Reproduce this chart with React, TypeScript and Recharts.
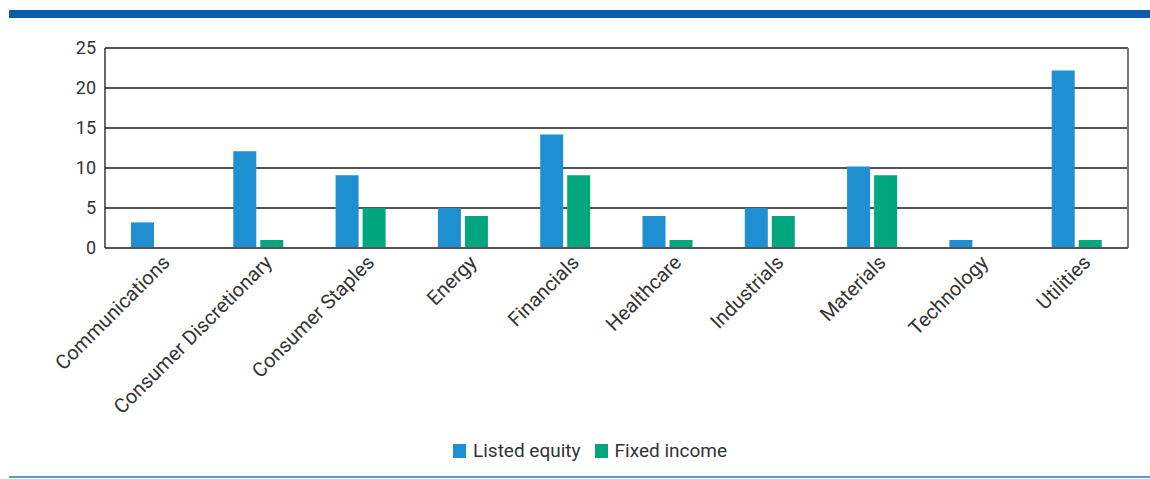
import React from "react";
import { BarChart, Bar, XAxis, YAxis, CartesianGrid, Legend } from "recharts";

const categories = ["Communications", "Consumer Discretionary", "Consumer Staples", "Energy", "Financials", "Healthcare", "Industrials", "Materials", "Technology", "Utilities"];
const listedEquity = [3.2, 12.1, 9.1, 5, 14.2, 4, 5, 10.2, 1, 22.2];
const fixedIncome = [0, 1, 5, 4, 9.1, 1, 4, 9.1, 0, 1];
const yTicks = [0, 5, 10, 15, 20, 25];
const seriesNames = ["Listed equity", "Fixed income"];
const seriesColors = ["#1E8FD1", "#00A77E"];

const data = categories.map((c, i) => ({ name: c, equity: listedEquity[i], fixed: fixedIncome[i] }));

const FONT = "Roboto, 'DejaVu Sans', sans-serif";
const TEXT = "#333333";

const XTick = (props: any) => {
  const { x, y, payload } = props;
  return (
    <text
      x={x}
      y={y}
      dx={5}
      dy={16}
      transform={`rotate(-45, ${x}, ${y})`}
      textAnchor="end"
      fontSize={20}
      fontFamily={FONT}
      fill={TEXT}
    >
      {payload.value}
    </text>
  );
};

const LegendContent = () => (
  <div style={{ display: "flex", justifyContent: "center", alignItems: "center", fontSize: 19, fontFamily: FONT, color: TEXT }}>
    {seriesNames.map((n, i) => (
      <div key={n} style={{ display: "flex", alignItems: "center", marginRight: i === 0 ? 14 : 0 }}>
        <span style={{ display: "inline-block", width: 13, height: 14, background: seriesColors[i], marginRight: 7 }} />
        <span>{n}</span>
      </div>
    ))}
  </div>
);

export default function App() {
  return (
    <div style={{ position: "absolute", left: 0, top: 0, width: 1150, height: 479, background: "#fff", fontFamily: FONT }}>
      <div style={{ position: "absolute", left: 9, top: 10, width: 1141, height: 8, background: "#0B5CAB" }} />
      <BarChart
        width={1150}
        height={470}
        data={data}
        margin={{ top: 48, right: 22, left: 0, bottom: 0 }}
        barSize={23}
        barGap={4}
      >
        <CartesianGrid vertical={false} stroke="#1a1a1a" strokeWidth={1.3} />
        <CartesianGrid
          horizontal={false}
          stroke="#777"
          strokeWidth={2}
          verticalCoordinatesGenerator={({ offset }: any) => [offset.left + offset.width]}
        />
        <XAxis
          dataKey="name"
          interval={0}
          height={200}
          tickLine={false}
          axisLine={{ stroke: "#555", strokeWidth: 2 }}
          tick={<XTick />}
        />
        <YAxis
          width={105}
          domain={[0, 25]}
          ticks={yTicks}
          tickLine={false}
          tickSize={0}
          tickMargin={9}
          axisLine={{ stroke: "#333", strokeWidth: 1.5 }}
          tick={{ fontSize: 18, fill: TEXT, fontFamily: FONT }}
        />
        <Legend
          verticalAlign="bottom"
          content={<LegendContent />}
          wrapperStyle={{ position: "absolute", top: 439, left: 0, width: 1180, height: 22 }}
        />
        <Bar dataKey="equity" name={seriesNames[0]} fill={seriesColors[0]} isAnimationActive={false} />
        <Bar dataKey="fixed" name={seriesNames[1]} fill={seriesColors[1]} isAnimationActive={false} />
      </BarChart>
      <div style={{ position: "absolute", left: 9, top: 476, width: 1141, height: 2, background: "#5A9BD5" }} />
    </div>
  );
}
